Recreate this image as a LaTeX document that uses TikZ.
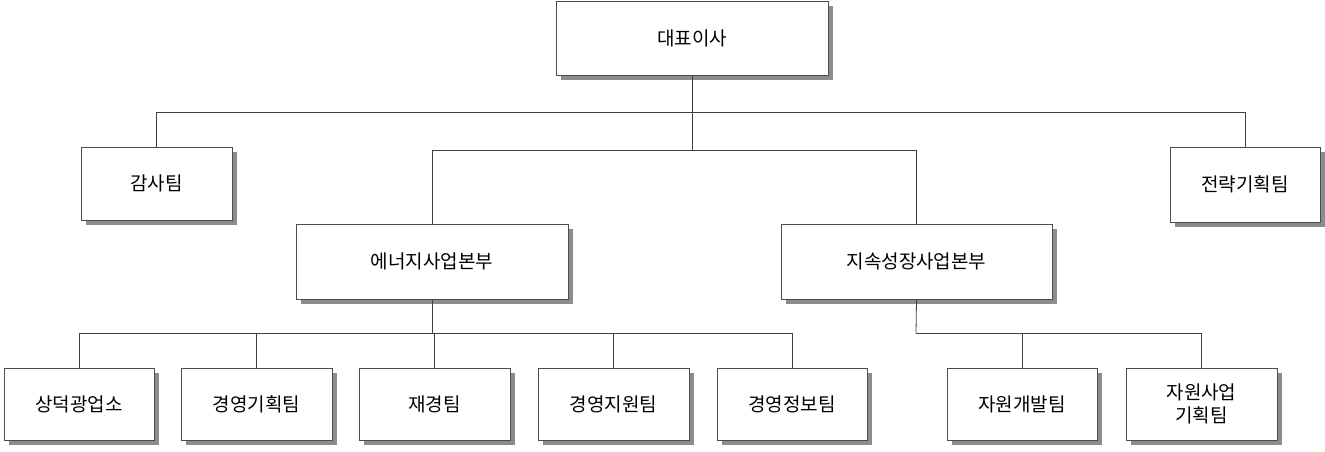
\documentclass[tikz,border=0pt]{standalone}
\usepackage{fontspec}
\setmainfont{Noto Sans CJK KR}
\begin{document}
\begin{tikzpicture}[x=1pt,y=-1pt,
 box/.style={draw=black!70,line width=0.8pt,fill=white,align=center,font=\fontsize{19}{23}\selectfont,inner sep=0pt},
 ln/.style={draw=black!75,line width=0.8pt}]
\useasboundingbox (0,0) rectangle (1325,452);
\newcommand\bx[6]{%
 \fill[black!45] (#2+5,#3+5) rectangle (#4+5,#5+5);
 \node[box,minimum width=#4-#2,minimum height=#5-#3] (#1) at ({(#2+#4)/2},{(#3+#5)/2}) {#6};}
\bx{ceo}{556}{1}{828}{75}{대표이사}
\bx{audit}{81}{147}{232}{220}{감사팀}
\bx{strat}{1170}{147}{1320}{222}{전략기획팀}
\bx{energy}{296}{224}{568}{299}{에너지사업본부}
\bx{sust}{781}{224}{1052}{299}{지속성장사업본부}
\bx{b1}{4}{368}{154}{440}{상덕광업소}
\bx{b2}{181}{368}{332}{440}{경영기획팀}
\bx{b3}{359}{368}{510}{440}{재경팀}
\bx{b4}{538}{368}{689}{440}{경영지원팀}
\bx{b5}{717}{368}{867}{440}{경영정보팀}
\bx{b6}{947}{368}{1097}{440}{자원개발팀}
\bx{b7}{1126}{368}{1277}{440}{자원사업\\기획팀}
\coordinate (t) at (692,112);
\coordinate (m) at (692,150);
\draw[ln] (ceo.south) -- (m);
\draw[ln] (t) -| (audit.north);
\draw[ln] (t) -| (strat.north);
\draw[ln] (m) -| (energy.north);
\draw[ln] (m) -| (sust.north);
\coordinate (e) at (432,333);
\draw[ln] (energy.south) -- (e);
\foreach \n in {b1,b2,b3,b4,b5} \draw[ln] (e) -| (\n.north);
\coordinate (s) at (916,333);
\draw[ln] (sust.south) -- (s);
\foreach \n in {b6,b7} \draw[ln] (s) -| (\n.north);
\end{tikzpicture}
\end{document}
